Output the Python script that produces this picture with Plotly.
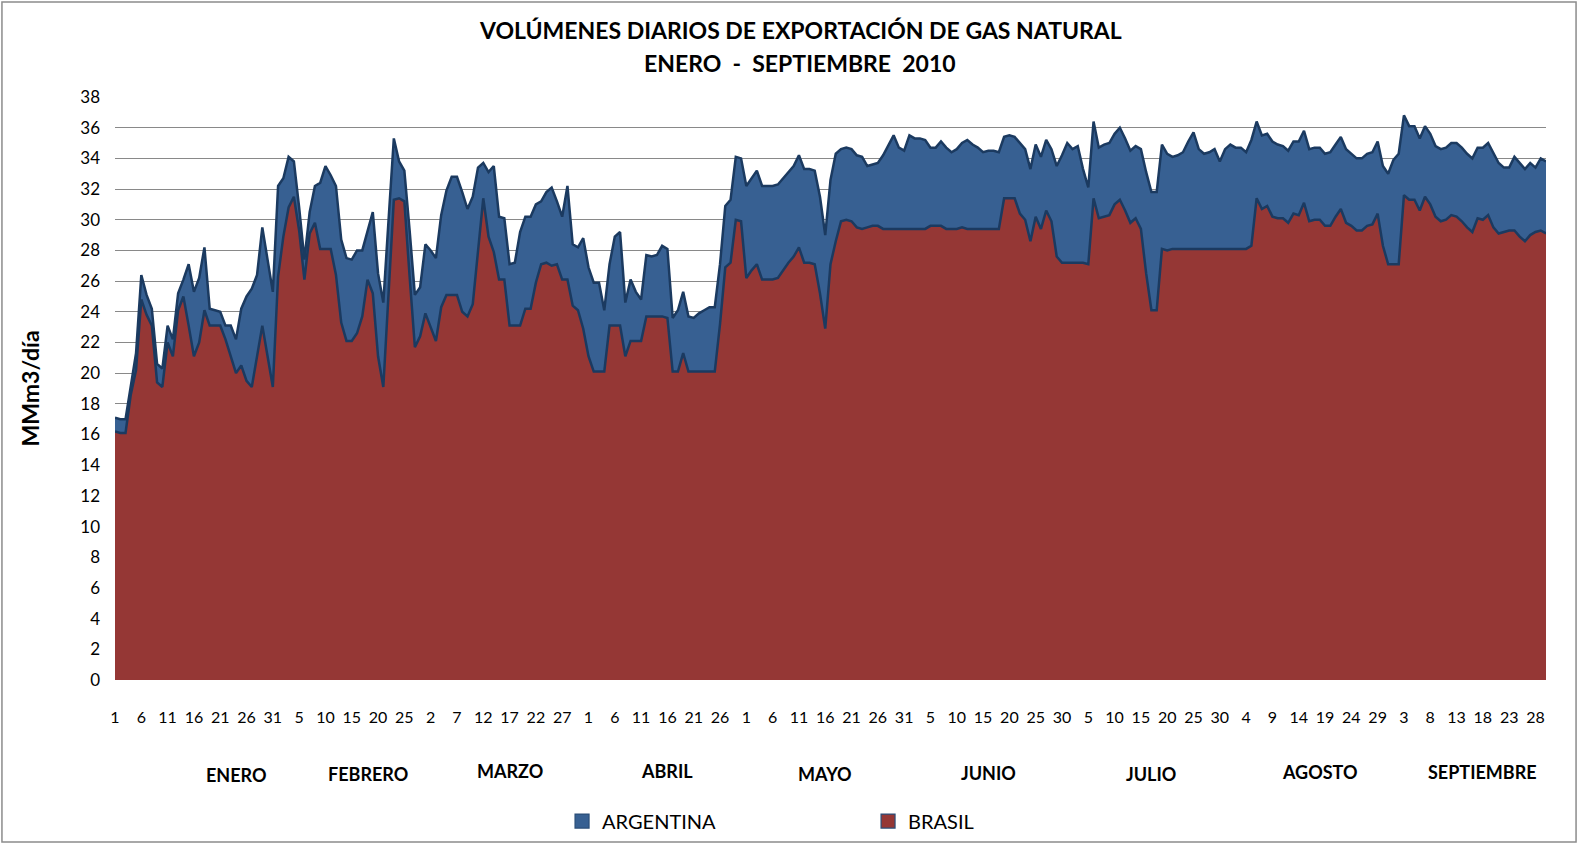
import pandas as pd
import plotly.graph_objects as go

# Volúmenes diarios de exportación (MMm3/día), enero - septiembre 2010
BRASIL_ENE = [16.2, 16.1, 16.1, 18.6, 20.2, 24.8, 23.8, 23.1, 19.4, 19.1,
              22.0, 21.1, 24.1, 25.0, 23.1, 21.1, 22.0, 24.1, 23.1, 23.1,
              23.1, 22.2, 21.1, 20.0, 20.5, 19.5, 19.1, 21.1, 23.1, 21.1, 19.1]
ARGENTINA_ENE = [0.9, 0.9, 0.9, 0.6, 1.1, 1.6, 1.3, 1.1, 1.2, 1.2,
                 1.1, 1.1, 1.1, 1.1, 4.0, 4.2, 4.2, 4.1, 1.1, 1.0,
                 0.9, 0.9, 2.0, 2.2, 3.7, 5.5, 6.4, 5.3, 6.4, 6.3, 6.2]

BRASIL_FEB = [26.3, 28.9, 30.8, 31.5, 29.3, 26.1, 29.1, 29.8, 28.1, 28.1,
              28.1, 26.4, 23.3, 22.1, 22.1, 22.6, 23.7, 26.1, 25.2, 21.1,
              19.1, 25.2, 31.3, 31.4, 31.2, 26.3, 21.7, 22.4]
ARGENTINA_FEB = [5.9, 3.8, 3.3, 2.3, 1.5, 1.3, 1.4, 2.4, 4.3, 5.4,
                 4.8, 5.8, 5.4, 5.4, 5.3, 5.4, 4.3, 3.1, 5.3, 5.4,
                 5.5, 4.8, 4.0, 2.4, 2.0, 3.0, 3.4, 3.2]

BRASIL_MAR = [23.9, 23.0, 22.1, 24.3, 25.1, 25.1, 25.1, 24.0, 23.7, 24.5,
              28.2, 31.4, 28.9, 27.9, 26.1, 26.1, 23.1, 23.1, 23.1, 24.2,
              24.2, 25.9, 27.1, 27.2, 27.0, 27.1, 26.1, 26.1, 24.4, 24.1, 22.9]
ARGENTINA_MAR = [4.5, 5.0, 5.4, 6.0, 6.8, 7.7, 7.7, 7.8, 7.0, 7.0,
                 5.2, 2.3, 4.2, 5.6, 4.1, 4.0, 4.0, 4.1, 6.1, 6.0,
                 6.0, 5.1, 4.1, 4.6, 5.1, 4.1, 4.1, 6.1, 4.0, 4.1, 5.9]

BRASIL_ABR = [21.1, 20.1, 20.1, 20.1, 23.1, 23.1, 23.1, 21.1, 22.1, 22.1,
              22.1, 23.7, 23.7, 23.7, 23.7, 23.6, 20.1, 20.1, 21.3, 20.1,
              20.1, 20.1, 20.1, 20.1, 20.1, 23.2, 26.9, 27.2, 30.0, 29.9]
ARGENTINA_ABR = [5.8, 5.8, 5.8, 4.0, 4.0, 5.8, 6.1, 3.5, 4.0, 3.2,
                 2.7, 4.0, 3.9, 4.0, 4.6, 4.5, 3.5, 4.0, 4.0, 3.6,
                 3.5, 3.8, 4.0, 4.2, 4.2, 3.9, 4.0, 4.1, 4.1, 4.1]

BRASIL_MAY = [26.2, 26.7, 27.1, 26.1, 26.1, 26.1, 26.2, 26.7, 27.2, 27.6,
              28.2, 27.2, 27.2, 27.1, 25.2, 22.9, 27.1, 28.6, 29.9, 30.0,
              29.9, 29.5, 29.4, 29.5, 29.6, 29.6, 29.4, 29.4, 29.4, 29.4, 29.4]
ARGENTINA_MAY = [6.0, 6.0, 6.1, 6.1, 6.1, 6.1, 6.1, 6.0, 5.9, 5.9,
                 6.0, 6.1, 6.1, 6.1, 6.3, 6.1, 5.5, 5.7, 4.7, 4.7,
                 4.7, 4.7, 4.7, 4.0, 4.0, 4.1, 4.8, 5.5, 6.1, 5.3, 5.1]

BRASIL_JUN = [29.4, 29.4, 29.4, 29.4, 29.6, 29.6, 29.6, 29.4, 29.4, 29.4,
              29.5, 29.4, 29.4, 29.4, 29.4, 29.4, 29.4, 29.4, 31.4, 31.4,
              31.4, 30.4, 30.0, 28.6, 30.2, 29.4, 30.6, 29.9, 27.6, 27.2]
ARGENTINA_JUN = [6.1, 5.9, 5.9, 5.8, 5.1, 5.1, 5.5, 5.3, 5.0, 5.2,
                 5.5, 5.8, 5.5, 5.3, 5.0, 5.1, 5.1, 5.0, 4.0, 4.1,
                 4.0, 4.6, 4.6, 4.7, 4.7, 4.7, 4.6, 4.7, 5.9, 7.0]

BRASIL_JUL = [27.2, 27.2, 27.2, 27.2, 27.1, 31.4, 30.1, 30.2, 30.3, 31.0,
              31.3, 30.6, 29.8, 30.1, 29.4, 26.5, 24.1, 24.1, 28.1, 28.0,
              28.1, 28.1, 28.1, 28.1, 28.1, 28.1, 28.1, 28.1, 28.1, 28.1, 28.1]
ARGENTINA_JUL = [7.8, 7.4, 7.6, 6.1, 5.0, 5.0, 4.6, 4.7, 4.7, 4.6,
                 4.7, 4.7, 4.7, 4.7, 5.2, 6.6, 7.7, 7.7, 6.8, 6.3,
                 6.0, 6.1, 6.3, 7.0, 7.6, 6.5, 6.2, 6.3, 6.5, 5.7, 6.5]

BRASIL_AGO = [28.1, 28.1, 28.1, 28.1, 28.3, 31.4, 30.7, 30.9, 30.2, 30.1,
              30.1, 29.8, 30.4, 30.3, 31.1, 29.9, 30.0, 30.0, 29.6, 29.6,
              30.2, 30.7, 29.8, 29.6, 29.3, 29.3, 29.6, 29.7, 30.4, 28.3, 27.1]
ARGENTINA_AGO = [6.8, 6.6, 6.6, 6.3, 6.9, 5.0, 4.8, 4.7, 4.9, 4.8,
                 4.7, 4.7, 4.7, 4.8, 4.7, 4.7, 4.7, 4.7, 4.7, 4.8,
                 4.7, 4.7, 4.8, 4.7, 4.7, 4.7, 4.7, 4.7, 4.7, 5.2, 5.9]

BRASIL_SEP = [27.1, 27.1, 31.6, 31.3, 31.3, 30.6, 31.5, 31.0, 30.2, 29.9,
              30.0, 30.3, 30.2, 29.9, 29.5, 29.2, 30.1, 30.0, 30.3, 29.5,
              29.1, 29.2, 29.3, 29.3, 28.9, 28.6, 29.0, 29.2, 29.3, 29.1]
ARGENTINA_SEP = [6.8, 7.2, 5.2, 4.8, 4.8, 4.7, 4.6, 4.6, 4.6, 4.7,
                 4.7, 4.7, 4.8, 4.8, 4.8, 4.8, 4.6, 4.7, 4.7, 4.8,
                 4.6, 4.2, 4.1, 4.8, 4.8, 4.7, 4.7, 4.2, 4.7, 4.7]

MESES = ["ENERO", "FEBRERO", "MARZO", "ABRIL", "MAYO",
         "JUNIO", "JULIO", "AGOSTO", "SEPTIEMBRE"]
# day index under which each month label sits, and its vertical offset
MES_POS = [23, 48, 75, 105, 135, 166, 197, 229, 260]
MES_Y = [-0.163, -0.161, -0.156, -0.156, -0.161, -0.159, -0.161, -0.157, -0.157]

brasil = (BRASIL_ENE + BRASIL_FEB + BRASIL_MAR + BRASIL_ABR + BRASIL_MAY
          + BRASIL_JUN + BRASIL_JUL + BRASIL_AGO + BRASIL_SEP)
argentina = (ARGENTINA_ENE + ARGENTINA_FEB + ARGENTINA_MAR + ARGENTINA_ABR
             + ARGENTINA_MAY + ARGENTINA_JUN + ARGENTINA_JUL + ARGENTINA_AGO
             + ARGENTINA_SEP)

fechas = pd.date_range("2010-01-01", "2010-09-30", freq="D")
x = list(range(len(fechas)))
tick_vals = x[::5]
tick_text = [str(d.day) for d in fechas[::5]]

FONT = "Lato, 'Open Sans', sans-serif"
RED = "#953735"
BLUE = "#376092"
EDGE = "#1B3A60"

fig = go.Figure()
fig.add_trace(go.Scatter(
    x=x, y=brasil, name="BRASIL", mode="lines", stackgroup="one",
    fillcolor=RED, line=dict(color=EDGE, width=2.5), showlegend=False
))
fig.add_trace(go.Scatter(
    x=x, y=argentina, name="ARGENTINA", mode="lines", stackgroup="one",
    fillcolor=BLUE, line=dict(color=EDGE, width=2.5), showlegend=False
))
# legend entries drawn as small squares, like the original
for nombre, color in [("ARGENTINA", BLUE), ("BRASIL", RED)]:
    fig.add_trace(go.Scatter(
        x=[None], y=[None], mode="markers", name=nombre,
        marker=dict(symbol="square", size=14, color=color,
                    line=dict(color="#2A4D78", width=1.2))
    ))

annotations = [
    dict(xref="paper", yref="paper", x=0.4787, y=1.1149, yanchor="middle",
         text="<b>VOLÚMENES DIARIOS DE EXPORTACIÓN DE GAS NATURAL</b>",
         showarrow=False, font=dict(size=23, color="black", family=FONT)),
    dict(xref="paper", yref="paper", x=0.4787, y=1.058, yanchor="middle",
         text="<b>ENERO  -  SEPTIEMBRE  2010</b>",
         showarrow=False, font=dict(size=23, color="black", family=FONT)),
    dict(xref="paper", yref="paper", x=-0.0594, y=0.5, textangle=-90,
         xanchor="center", yanchor="middle",
         text="<b>MMm3/día</b>", showarrow=False,
         font=dict(size=23, color="black", family=FONT)),
]
for mes, pos, yy in zip(MESES, MES_POS, MES_Y):
    annotations.append(dict(
        xref="x", yref="paper", x=pos, y=yy, xanchor="center",
        yanchor="middle", text=f"<b>{mes}</b>", showarrow=False,
        font=dict(size=18, color="black", family=FONT)
    ))

fig.update_layout(
    width=1581, height=843,
    margin=dict(l=115, r=35, t=97, b=163, autoexpand=False),
    paper_bgcolor="white", plot_bgcolor="white",
    font=dict(family=FONT, color="black"),
    xaxis=dict(
        range=[0, len(x) - 1], tickmode="array", tickvals=tick_vals,
        ticktext=tick_text, tickangle=0, showgrid=False, zeroline=False,
        showline=False, ticks="", ticklabelstandoff=26,
        tickfont=dict(size=16, family=FONT), automargin=False
    ),
    yaxis=dict(
        range=[0, 38], dtick=2, showgrid=True, gridcolor="#898989",
        gridwidth=1.4, zeroline=False, showline=False, ticks="",
        ticklabelstandoff=14, tickfont=dict(size=17, family=FONT),
        automargin=False
    ),
    legend=dict(
        orientation="h", x=0.3124, y=-0.2419, xanchor="left",
        yanchor="middle", traceorder="normal", entrywidth=261,
        entrywidthmode="pixels", font=dict(size=20, family=FONT),
        bgcolor="rgba(0,0,0,0)"
    ),
    annotations=annotations,
    shapes=[dict(
        type="rect", xref="paper", yref="paper",
        x0=-0.0790, x1=1.0210, y0=-0.2779, y1=1.1630,
        line=dict(color="#8C8C8C", width=1.5), fillcolor="rgba(0,0,0,0)",
        layer="below"
    )],
    hovermode="x unified",
)

fig.write_html("out.html", config={"displayModeBar": False},
               post_script="document.body.style.margin='0';")
